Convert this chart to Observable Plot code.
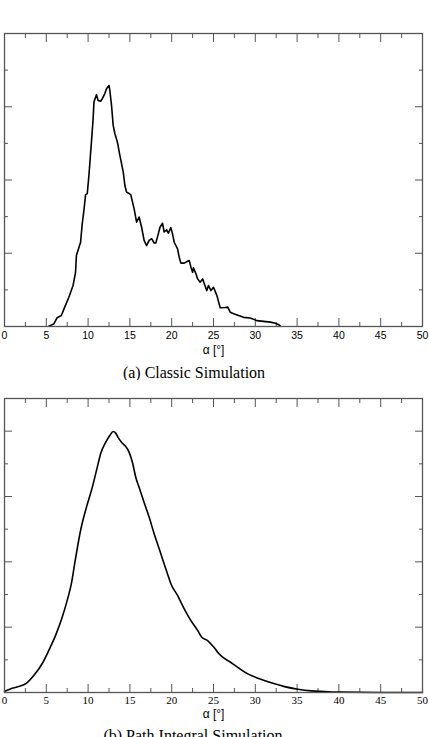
<!DOCTYPE html>
<html><head><meta charset="utf-8">
<script src="https://cdn.jsdelivr.net/npm/d3@7"></script>
<script src="https://cdn.jsdelivr.net/npm/@observablehq/plot@0.6"></script>
<style>
body{margin:0;background:#fff;}
#wrap{position:relative;width:429px;height:737px;overflow:hidden;background:#fff;}
.abs{position:absolute;left:0;}
.lbl{width:429px;text-align:center;color:#000;white-space:nowrap;}
</style></head><body><div id="wrap"></div>
<script>
// Panel (a) Classic Simulation
const alphaA = [5.3,5.9,6.3,6.8,7.2,7.7,8.2,8.5,8.6,9.1,9.3,9.5,9.7,9.9,10.1,10.4,10.6,10.7,11.0,11.2,11.5,11.7,12.0,12.2,12.5,12.6,12.8,13.0,13.2,13.5,13.8,14.2,14.4,14.6,14.9,15.1,15.5,15.8,16.1,16.4,16.7,17.0,17.3,17.6,17.9,18.1,18.4,18.6,18.9,19.1,19.4,19.6,19.9,20.1,20.3,20.7,20.9,21.1,21.5,21.9,22.1,22.3,22.5,22.6,22.9,23.1,23.4,23.7,23.9,24.2,24.4,24.7,25.0,25.4,25.8,26.4,26.7,27.0,27.4,28.0,28.6,29.4,30.2,31.0,31.8,32.4,32.8,33.0];
const countA = [0.01,0.07,0.24,0.30,0.53,0.80,1.12,1.48,1.94,2.30,2.81,3.17,3.60,3.63,4.13,5.04,5.67,6.13,6.33,6.17,6.15,6.22,6.36,6.49,6.58,6.45,6.04,5.49,5.27,5.04,4.67,4.22,3.85,3.67,3.63,3.60,3.22,2.85,2.99,2.71,2.35,2.21,2.35,2.40,2.28,2.28,2.53,2.71,2.82,2.58,2.64,2.55,2.70,2.53,2.30,2.12,1.89,1.73,1.73,1.78,1.80,1.62,1.48,1.60,1.44,1.30,1.21,1.30,1.17,0.98,1.12,0.98,1.07,0.85,0.51,0.52,0.53,0.39,0.35,0.30,0.25,0.23,0.16,0.14,0.12,0.09,0.05,0.01];
// Panel (b) Path Integral Simulation
const alphaB = [0,0.7,1.7,2.6,3.5,4.5,5.3,6.1,6.9,7.5,8.0,8.4,9.1,9.8,10.5,11.1,11.5,12.1,12.6,13.0,13.3,13.6,14.0,14.4,14.9,15.3,15.7,16.1,16.7,17.3,17.9,18.5,18.9,19.5,19.9,20.7,21.5,22.3,23.1,23.6,24.3,24.6,25.2,25.5,26.1,26.9,27.9,29.1,30.5,32.1,33.5,35.1,36.7,38.3,40.3,45,50];
const countB = [0.04,0.11,0.18,0.28,0.52,0.88,1.29,1.74,2.30,2.82,3.33,3.95,4.96,5.67,6.28,6.90,7.31,7.66,7.87,7.99,7.94,7.80,7.66,7.56,7.36,7.05,6.59,6.28,5.82,5.37,4.86,4.40,4.09,3.63,3.33,2.97,2.56,2.20,1.90,1.69,1.59,1.51,1.34,1.23,1.08,0.95,0.77,0.57,0.42,0.28,0.18,0.10,0.05,0.03,0.01,0,0];

const xMajor = [0,5,10,15,20,25,30,35,40,45,50];
const xMinor = [2.5,7.5,12.5,17.5,22.5,27.5,32.5,37.5,42.5,47.5];
const yMajor = [0,2,4,6,8];
const yMinorA = [1,3,5,7];
const yMinorB = [1,3,5,7,9];
const xLabel = "α [°]";
const captionA = "(a) Classic Simulation";
const captionB = "(b) Path Integral Simulation";

const frameColor = "#555";

function panel({xs, ys, yMax, yMinor, height, marginTop, marginBottom, tickFont, tickFontSize, tickPadding, curve}) {
  const data = xs.map((x, i) => ({x, y: ys[i]}));
  return Plot.plot({
    width: 429, height, marginLeft: 4, marginRight: 7, marginTop, marginBottom,
    x: {domain: [0, 50], label: null},
    y: {domain: [0, yMax], label: null},
    style: {fontFamily: tickFont, fontSize: tickFontSize, color: "#000", background: "#fff", overflow: "visible"},
    marks: [
      Plot.axisX({ticks: xMajor, anchor: "bottom", tickSize: -8, fill: "none", stroke: frameColor}),
      Plot.axisX({ticks: xMinor, anchor: "bottom", tickSize: -4, fill: "none", stroke: frameColor}),
      Plot.axisX({ticks: xMajor, anchor: "top", tickSize: -8, fill: "none", stroke: frameColor}),
      Plot.axisX({ticks: xMinor, anchor: "top", tickSize: -4, fill: "none", stroke: frameColor}),
      Plot.axisY({ticks: yMajor, anchor: "left", tickSize: -8, fill: "none", stroke: frameColor}),
      Plot.axisY({ticks: yMinor, anchor: "left", tickSize: -4, fill: "none", stroke: frameColor}),
      Plot.axisY({ticks: yMajor, anchor: "right", tickSize: -8, fill: "none", stroke: frameColor}),
      Plot.axisY({ticks: yMinor, anchor: "right", tickSize: -4, fill: "none", stroke: frameColor}),
      Plot.axisX({ticks: xMajor, anchor: "bottom", tickSize: 0, tickPadding, label: null, fill: "#000"}),
      Plot.line(data, {x: "x", y: "y", stroke: "#000", strokeWidth: 1.6, curve}),
      Plot.frame({stroke: frameColor, strokeWidth: 1.3})
    ]
  });
}

const wrap = document.getElementById("wrap");
function place(el, top, left = 0) { el.classList.add("abs"); el.style.top = top + "px"; el.style.left = left + "px"; wrap.appendChild(el); }
function textDiv(txt, top, cx, font, size) {
  const d = document.createElement("div");
  d.className = "lbl";
  d.textContent = txt;
  d.style.fontFamily = font; d.style.fontSize = size + "px"; d.style.lineHeight = size + "px";
  place(d, top, cx - 214.5);
}

const sans = "'Liberation Sans', Arial, sans-serif";
const serif = "'Liberation Serif', 'Times New Roman', serif";

const pa = panel({xs: alphaA, ys: countA, yMax: 8, yMinor: yMinorA, height: 343, marginTop: 33, marginBottom: 17,
  tickFont: sans, tickFontSize: "10.5px", tickPadding: 5, curve: "linear"});
place(pa, 0);
textDiv(xLabel, 344, 213.5, sans, 12);
textDiv(captionA, 365, 194, serif, 16);

const pb = panel({xs: alphaB, ys: countB, yMax: 9, yMinor: yMinorB, height: 328, marginTop: 18, marginBottom: 16,
  tickFont: serif, tickFontSize: "11px", tickPadding: 4, curve: "monotone-x"});
place(pb, 380);
textDiv(xLabel, 708, 213.5, sans, 12);
textDiv(captionB, 728, 193, serif, 16);
</script></body></html>
